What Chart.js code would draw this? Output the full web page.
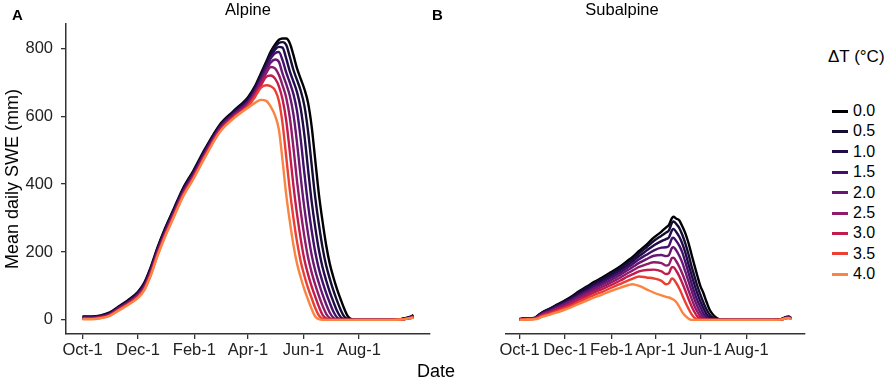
<!DOCTYPE html>
<html>
<head>
<meta charset="utf-8">
<script src="https://cdn.jsdelivr.net/npm/chart.js@4.4.0/dist/chart.umd.min.js"></script>
<style>
  html, body { margin: 0; padding: 0; background: #fff; }
  body { width: 896px; height: 381px; position: relative; overflow: hidden;
         font-family: "Liberation Sans", Arial, sans-serif; color: #000; }
  canvas { position: absolute; top: 0; }
  .txt { position: absolute; white-space: nowrap; line-height: 1; transform: translate(-50%, -50%); }
  .tag { font-weight: bold; font-size: 15px; transform: none; }
  .panel-title { font-size: 16.5px; }
  .axis-title { font-size: 18px; }
  #legend { position: absolute; left: 828px; top: 0; }
  #legend .ttl { position: absolute; left: 0; font-size: 17px; line-height: 1; white-space: nowrap; transform: translateY(-50%); }
  #legend .key { position: absolute; left: 4px; width: 16px; height: 3px; }
  #legend .lab { position: absolute; left: 25px; font-size: 16px; line-height: 1; transform: translateY(-50%); }
</style>
</head>
<body>
<canvas id="alpineChart" width="436" height="381" style="left:0;width:436px;height:381px"></canvas>
<canvas id="subalpineChart" width="375" height="381" style="left:436px;width:375px;height:381px"></canvas>

<div class="txt tag" style="left:12px;top:7px">A</div>
<div class="txt tag" style="left:432px;top:7px">B</div>
<div class="txt panel-title" style="left:248px;top:9px">Alpine</div>
<div class="txt panel-title" style="left:622px;top:9px">Subalpine</div>
<div class="txt axis-title" style="left:436px;top:371px">Date</div>
<div class="txt axis-title" style="left:12px;top:179px;transform:translate(-50%,-50%) rotate(-90deg)">Mean daily SWE (mm)</div>
<div id="legend"></div>

<script>
  // warming scenarios and their colours
  const warmLabels = ['0.0', '0.5', '1.0', '1.5', '2.0', '2.5', '3.0', '3.5', '4.0'];
  const lineColors = ['#000004', '#150d33', '#1f0c48', '#43106b', '#681870', '#901b6b', '#c21c4f', '#ec3e33', '#fb8442'];

  // x axis: days since Oct-1
  const tickDays   = [0, 61, 123, 182, 243, 304];
  const tickLabels = ['Oct-1', 'Dec-1', 'Feb-1', 'Apr-1', 'Jun-1', 'Aug-1'];
  const yTicks     = [0, 200, 400, 600, 800];

  // Alpine: mean daily SWE (mm), one array per ΔT
  const alpineDays = [0,10,20,30,40,50,61,68,75,82,90,100,110,122,135,151,166,182,190,196,202,207,212,216,220,224,228,232,236,240,244,248,252,256,260,264,268,272,276,280,284,288,292,296,300,320,340,350,356,360,364];
  const alpine00 = [10,10,13,22,40,58,83,110,155,210,265,325,385,440,505,575,615,656,690,725,760,790,812,825,829,829,815,780,740,710,680,640,570,470,370,290,220,165,125,90,60,32,10,2,0,0,0,2,6,9,14];
  const alpine05 = [9,9,12,21,38,56,81,107,152,207,262,322,382,437,502,572,612,652,686,720,755,785,805,816,818,810,775,736,706,675,631,557,457,360,281,213,160,121,86,56,29,9,2,0,0,0,0,2,5,8,12];
  const alpine10 = [8,8,11,19,37,54,78,105,149,204,259,319,379,434,499,570,610,648,682,715,750,778,797,804,802,770,732,702,670,622,545,445,350,272,206,155,116,82,53,26,8,2,0,0,0,0,0,2,5,7,11];
  const alpine15 = [7,7,10,18,36,53,76,102,146,201,256,316,376,431,496,567,607,644,677,710,743,770,786,789,765,729,699,665,614,532,432,340,264,199,150,112,79,50,24,7,1,0,0,0,0,0,0,1,4,7,10];
  const alpine20 = [6,6,9,17,34,51,74,99,142,197,252,312,372,427,492,564,604,640,672,703,735,758,767,760,725,695,660,605,520,420,330,255,192,145,108,75,46,21,6,1,0,0,0,0,0,0,0,1,4,6,10];
  const alpine25 = [5,5,8,16,33,49,72,96,139,194,249,309,369,424,489,561,601,636,668,696,727,745,740,721,691,655,596,507,407,320,246,185,140,103,71,42,18,5,1,0,0,0,0,0,0,0,0,1,3,6,9];
  const alpine30 = [4,4,7,14,31,47,70,93,136,191,246,306,366,421,486,558,598,633,664,690,716,720,710,688,650,588,495,395,310,238,178,135,99,68,39,15,4,0,0,0,0,0,0,0,0,0,0,1,3,5,8];
  const alpine35 = [3,3,6,13,29,46,67,90,133,188,243,303,363,418,483,555,595,629,658,683,691,688,675,645,579,482,382,300,229,172,130,94,64,35,13,3,0,0,0,0,0,0,0,0,0,0,0,1,3,5,8];
  const alpine40 = [2,2,5,12,28,44,65,88,130,185,240,300,360,415,480,553,593,625,640,648,645,628,600,560,470,370,290,220,165,125,90,60,32,10,2,0,0,0,0,0,0,0,0,0,0,0,0,1,3,5,7];

  // Subalpine: mean daily SWE (mm), one array per ΔT
  const subalpineDays = [0,10,20,25,30,40,50,61,70,80,90,100,110,122,135,145,151,160,170,180,190,196,200,204,206,210,214,218,222,226,230,234,238,242,246,250,254,258,262,266,270,280,300,340,350,356,360,364];
  const subalpine00 = [3,5,6,14,22,33,45,58,70,85,98,112,124,140,158,175,185,203,222,243,260,272,280,300,304,298,293,275,255,228,195,162,130,100,80,55,32,18,9,3,0,0,0,0,2,8,10,5];
  const subalpine05 = [3,5,6,13,21,32,43,56,67,82,95,108,120,135,153,169,179,196,214,233,248,257,264,286,290,282,270,250,225,195,160,130,100,75,52,32,17,8,3,0,0,0,0,0,2,7,9,5];
  const subalpine10 = [2,4,5,12,20,30,41,53,64,78,91,104,115,130,147,162,172,188,204,220,232,238,243,264,268,258,244,224,198,165,135,105,78,55,35,18,8,3,0,0,0,0,0,0,2,7,9,4];
  const subalpine15 = [2,4,5,11,18,28,39,50,61,74,86,99,110,124,140,155,164,179,192,205,213,214,218,240,242,232,218,198,170,140,110,82,58,38,20,8,2,0,0,0,0,0,0,0,1,6,8,4];
  const subalpine20 = [2,3,4,10,17,26,36,47,57,70,81,93,104,117,133,147,155,168,179,189,191,188,191,212,214,204,188,168,142,115,88,62,40,22,9,2,0,0,0,0,0,0,0,0,1,6,8,4];
  const subalpine25 = [1,3,4,9,15,24,33,43,53,65,76,87,97,110,125,138,145,156,164,170,167,160,163,182,183,172,156,136,113,88,64,42,24,10,3,0,0,0,0,0,0,0,0,0,1,5,7,3];
  const subalpine30 = [1,2,3,8,13,21,30,39,48,60,70,81,90,102,116,128,134,143,147,148,143,135,138,155,155,144,128,108,86,63,42,24,10,3,0,0,0,0,0,0,0,0,0,0,1,5,6,3];
  const subalpine35 = [0,2,3,6,11,18,26,35,43,54,64,74,82,94,106,116,121,128,125,122,115,105,108,122,120,108,92,72,52,34,18,7,2,0,0,0,0,0,0,0,0,0,0,0,1,4,6,3];
  const subalpine40 = [0,1,2,4,9,15,22,30,38,48,57,66,74,85,95,102,105,100,90,80,72,68,66,62,60,52,38,22,12,4,0,0,0,0,0,0,0,0,0,0,0,0,0,0,1,4,5,3];

  const alpineSeries    = [alpine00, alpine05, alpine10, alpine15, alpine20, alpine25, alpine30, alpine35, alpine40];
  const subalpineSeries = [subalpine00, subalpine05, subalpine10, subalpine15, subalpine20, subalpine25, subalpine30, subalpine35, subalpine40];

  const axisColor = '#333333';
  const tickFont  = { family: 'Liberation Sans', size: 16.5 };

  function makePanel(canvasId, days, series, showY, padLeft) {
    const ctx = document.getElementById(canvasId).getContext('2d');
    return new Chart(ctx, {
      type: 'line',
      data: {
        datasets: series.map((vals, k) => ({
          label: warmLabels[k],
          data: days.map((d, i) => ({ x: d, y: vals[i] })),
          borderColor: lineColors[k],
          borderWidth: 2.4,
          pointRadius: 0,
          fill: false,
          cubicInterpolationMode: 'monotone',
          order: series.length - k
        }))
      },
      options: {
        responsive: false,
        animation: false,
        events: [],
        layout: { padding: { top: 24, right: 6, left: padLeft, bottom: 0 } },
        plugins: { legend: { display: false }, tooltip: { enabled: false } },
        scales: {
          x: {
            type: 'linear',
            min: -18.2,
            max: 382.2,
            afterBuildTicks: (s) => { s.ticks = tickDays.map(v => ({ value: v })); },
            afterFit: (s) => { s.height = 47; },
            ticks: {
              callback: (v) => tickLabels[tickDays.indexOf(v)],
              font: tickFont,
              color: '#222',
              padding: 2,
              maxRotation: 0,
              autoSkip: false
            },
            grid: { drawOnChartArea: false, drawTicks: true, tickLength: 5, color: axisColor, lineWidth: 1.3 },
            border: { display: true, color: axisColor, width: 1.5 }
          },
          y: {
            display: showY,
            min: -41.5,
            max: 871.5,
            afterBuildTicks: (s) => { s.ticks = yTicks.map(v => ({ value: v })); },
            afterFit: (s) => { s.width = 66; },
            ticks: { font: tickFont, color: '#222', padding: 8 },
            grid: { drawOnChartArea: false, drawTicks: true, tickLength: 5, color: axisColor, lineWidth: 1.3 },
            border: { display: true, color: axisColor, width: 1.5 }
          }
        }
      }
    });
  }

  makePanel('alpineChart', alpineDays, alpineSeries, true, 0);
  makePanel('subalpineChart', subalpineDays, subalpineSeries, false, 4);

  // legend
  const legend = document.getElementById('legend');
  let html = '<div class="ttl" style="top:56px">\u0394T (\u00b0C)</div>';
  warmLabels.forEach((lab, k) => {
    const y = 111 + k * 20.4;
    html += '<div class="key" style="top:' + (y - 1.5) + 'px;background:' + lineColors[k] + '"></div>';
    html += '<div class="lab" style="top:' + y + 'px">' + lab + '</div>';
  });
  legend.innerHTML = html;
</script>
</body>
</html>
